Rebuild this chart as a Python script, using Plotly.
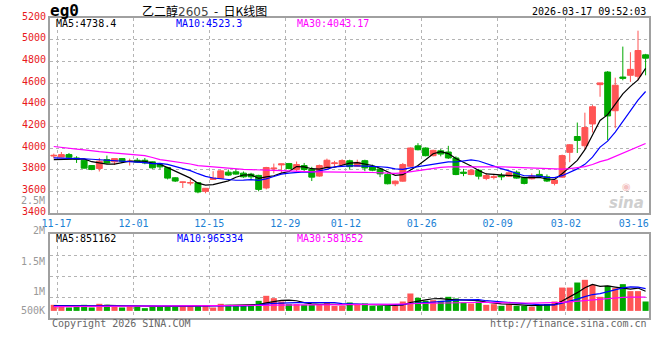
import plotly.graph_objects as go

# ---------------- data ----------------
dates = (["11-17", "11-18", "11-19", "11-20", "11-21", "11-24", "11-25", "11-26", "11-27", "11-28"]
         + ["12-01", "12-02", "12-03", "12-04", "12-05", "12-08", "12-09", "12-10", "12-11", "12-12",
            "12-15", "12-16", "12-17", "12-18", "12-19", "12-22", "12-23", "12-24", "12-25", "12-26",
            "12-29", "12-30", "12-31"]
         + ["01-05", "01-06", "01-07", "01-08", "01-09", "01-12", "01-13", "01-14", "01-15", "01-16",
            "01-19", "01-20", "01-21", "01-22", "01-23", "01-26", "01-27", "01-28", "01-29", "01-30"]
         + ["02-02", "02-03", "02-04", "02-05", "02-06", "02-09", "02-10", "02-11", "02-12", "02-13",
            "02-24", "02-25", "02-26", "02-27"]
         + ["03-02", "03-03", "03-04", "03-05", "03-06", "03-09", "03-10", "03-11", "03-12", "03-13",
            "03-16", "03-17"])

opens = [3926, 3917, 3939, 3908, 3887, 3838, 3811, 3893, 3872, 3902,
         3874, 3887, 3887, 3872, 3847, 3820, 3725, 3683, 3677, 3680,
         3600, 3710, 3719, 3777, 3780, 3768, 3759, 3747, 3631, 3808,
         3844, 3856, 3802, 3838, 3802, 3741, 3817, 3856, 3847, 3882,
         3831, 3883, 3831, 3807, 3755, 3670, 3694, 3831, 4020, 4000,
         3929, 3974, 3963, 3908, 3777, 3755, 3795, 3719, 3728, 3746,
         3740, 3777, 3725, 3716, 3756, 3734, 3673, 3731, 3960, 4106,
         4021, 4222, 4585, 4701, 4344, 4655, 4671, 4662, 4860]
highs = [3948, 3963, 3954, 3924, 3893, 3841, 3908, 3930, 3902, 3908,
         3902, 3908, 3908, 3875, 3850, 3826, 3731, 3689, 3710, 3686,
         3631, 3786, 3795, 3801, 3808, 3783, 3771, 3753, 3826, 3856,
         3856, 3862, 3875, 3862, 3826, 3847, 3902, 3881, 3896, 3892,
         3892, 3892, 3847, 3816, 3770, 3700, 3862, 4005, 4045, 4005,
         3984, 3990, 4020, 3923, 3807, 3807, 3807, 3770, 3761, 3770,
         3786, 3792, 3734, 3765, 3795, 3756, 3710, 3939, 4036, 4235,
         4326, 4396, 4601, 4710, 4649, 4936, 4884, 5083, 4869]
lows = [3905, 3915, 3899, 3862, 3811, 3795, 3783, 3856, 3844, 3862,
        3838, 3862, 3850, 3808, 3802, 3710, 3686, 3631, 3655, 3582,
        3582, 3707, 3716, 3741, 3753, 3725, 3704, 3600, 3618, 3765,
        3771, 3802, 3786, 3786, 3695, 3734, 3811, 3832, 3838, 3800,
        3825, 3786, 3786, 3731, 3664, 3648, 3688, 3825, 3978, 3923,
        3923, 3923, 3899, 3749, 3740, 3749, 3710, 3703, 3710, 3703,
        3734, 3716, 3664, 3710, 3740, 3686, 3655, 3725, 3869, 3954,
        3984, 4143, 4473, 4070, 4183, 4625, 4610, 4625, 4671]
closes = [3932, 3939, 3914, 3899, 3814, 3802, 3878, 3862, 3902, 3878,
          3878, 3869, 3862, 3817, 3826, 3722, 3695, 3686, 3680, 3594,
          3628, 3722, 3789, 3750, 3759, 3734, 3734, 3618, 3820, 3814,
          3853, 3811, 3847, 3802, 3731, 3838, 3887, 3862, 3884, 3828,
          3868, 3816, 3795, 3761, 3670, 3694, 3847, 4000, 3984, 3929,
          3978, 3944, 3908, 3755, 3767, 3795, 3740, 3746, 3734, 3734,
          3771, 3722, 3673, 3740, 3740, 3695, 3704, 3930, 4030, 4070,
          4189, 4381, 4601, 4296, 4579, 4643, 4726, 4900, 4829]
volumes = [259000, 216000, 145000, 216000, 259000, 145000, 302000, 259000, 173000, 145000,
           216000, 216000, 117000, 216000, 173000, 216000, 173000, 216000, 216000, 216000,
           216000, 145000, 302000, 259000, 216000, 216000, 216000, 429000, 643000, 543000,
           401000, 287000, 287000, 259000, 259000, 287000, 358000, 216000, 216000, 358000,
           259000, 316000, 216000, 216000, 216000, 216000, 401000, 742000, 558000, 429000,
           458000, 429000, 600000, 529000, 358000, 316000, 401000, 259000, 287000, 216000,
           287000, 216000, 216000, 173000, 259000, 287000, 401000, 995000, 995000, 1210000,
           1325000, 1112000, 600000, 1069000, 971000, 1140000, 843000, 843000, 401000]

ma5_head = [3893, 3893, 3895, 3897]
ma10_head = [3908, 3907, 3906, 3904, 3900, 3896, 3892, 3889, 3885]
ma30_head = [4014, 4008, 4001, 3990, 3982, 3972, 3966, 3960, 3954, 3948,
             3942, 3936, 3930, 3912, 3892, 3884, 3874, 3866, 3852, 3838,
             3832, 3822, 3817, 3812, 3807, 3803, 3800, 3796, 3793]
vol_ma5_head = [225000, 222000, 220000, 220000]
vol_ma10_head = [215000, 215000, 214000, 214000, 213000, 213000, 212000, 212000, 212000]
vol_ma30_head = [185000, 186000, 188000, 190000, 191000, 193000, 195000, 196000, 198000, 200000,
                 201000, 203000, 204000, 206000, 207000, 209000, 210000, 212000, 213000, 215000,
                 217000, 219000, 221000, 223000, 225000, 227000, 229000, 231000, 234000]

tick_dates = ["11-17", "12-01", "12-15", "12-29", "01-12", "01-26", "02-09", "03-02", "03-16"]
grid_dates = ["11-17", "12-01", "12-15", "12-29", "01-12", "01-26", "02-09", "03-02"]
price_ticks = [3400, 3600, 3800, 4000, 4200, 4400, 4600, 4800, 5000, 5200]
vol_labels = ["2.5M", "2M", "1.5M", "1M", "500K"]

symbol = "eg0"
title_cn = "乙二醇"
contract = "2605"
title_tail = "日K线图"
timestamp = "2026-03-17 09:52:03"
price_ma_texts = ["MA5:4738.4", "MA10:4523.3", "MA30:4043.17"]
vol_ma_texts = ["MA5:851162", "MA10:965334", "MA30:581652"]
copyright_text = "Copyright 2026 SINA.COM"
url_text = "http://finance.sina.com.cn"

# ---------------- styling ----------------
RED = "#ff5555"
GREEN = "#00a800"
MA_COLORS = ["#000000", "#0000ff", "#ff00ff"]
GRID = "#b4b4b4"
BORDER = "#a0a0a0"
MONO = "DejaVu Sans Mono"
W, H = 660, 360
L, R = 50, 11
EDGE_LABEL_NUDGE = {"11-17": -0.15, "03-16": -1.05}   # keep end labels inside the frame


def moving_average(vals, n, head):
    out = list(head)
    for i in range(n - 1, len(vals)):
        out.append(sum(vals[i - n + 1:i + 1]) / n)
    return out


idx = list(range(len(dates)))
ma_price = [moving_average(closes, 5, ma5_head),
            moving_average(closes, 10, ma10_head),
            moving_average(closes, 30, ma30_head)]
ma_vol = [moving_average(volumes, 5, vol_ma5_head),
          moving_average(volumes, 10, vol_ma10_head),
          moving_average(volumes, 30, vol_ma30_head)]
vol_colors = [RED if c >= o else GREEN for o, c in zip(opens, closes)]

fig = go.Figure()
fig.add_trace(go.Candlestick(
    x=idx, open=opens, high=highs, low=lows, close=closes,
    increasing=dict(line=dict(color=RED, width=1), fillcolor=RED),
    decreasing=dict(line=dict(color=GREEN, width=1), fillcolor=GREEN),
    whiskerwidth=0, xaxis="x", yaxis="y", showlegend=False, hoverinfo="skip"))
for ma, col in zip(ma_price, MA_COLORS):
    fig.add_trace(go.Scatter(x=idx, y=ma, mode="lines", line=dict(color=col, width=1.2),
                             xaxis="x", yaxis="y", showlegend=False, hoverinfo="skip"))
fig.add_trace(go.Bar(x=idx, y=volumes, marker=dict(color=vol_colors, line=dict(width=0)),
                     width=0.8, xaxis="x2", yaxis="y2", showlegend=False, hoverinfo="skip"))
for ma, col in zip(ma_vol, MA_COLORS):
    fig.add_trace(go.Scatter(x=idx, y=ma, mode="lines", line=dict(color=col, width=1.2),
                             xaxis="x2", yaxis="y2", showlegend=False, hoverinfo="skip"))


def px_x(px):
    return (px - L) / (W - L - R)


def px_y(py):
    return 1 - py / H


main_top, main_bot = 18, 213
vol_top, vol_bot = 234, 318
label_pos = [dates.index(d) + 0.5 + EDGE_LABEL_NUDGE.get(d, 0) for d in tick_dates]
grid_pos = [dates.index(d) + 0.5 for d in grid_dates]
xr = [-0.5, 78.45]
vol_range = [-303000, 3278000]
vol_grid = [vol_range[0] + (vol_range[1] - vol_range[0]) * f for f in (0.25, 0.5, 0.75)]

frame = dict(zeroline=False, showline=True, mirror=True, linecolor=BORDER, linewidth=2,
             ticks="", automargin=False)
ygrid = dict(showgrid=True, gridcolor=GRID, griddash="dot", gridwidth=1)
xminor = dict(tickmode="array", tickvals=grid_pos, ticks="", showgrid=True,
              gridcolor=GRID, griddash="dot", gridwidth=1)

fig.update_layout(
    width=W, height=H, margin=dict(l=L, r=R, t=0, b=0),
    paper_bgcolor="white", plot_bgcolor="white", showlegend=False,
    boxgap=0.12, boxgroupgap=0.12,
    xaxis=dict(domain=[0, 1], anchor="y", range=xr, tickmode="array", tickvals=label_pos,
               ticktext=tick_dates, tickfont=dict(family=MONO, size=10, color="#1a7fd4"),
               ticklabeloverflow="allow",
               showgrid=False, minor=xminor, rangeslider=dict(visible=False), **frame),
    yaxis=dict(domain=[px_y(main_bot), px_y(main_top)], anchor="x", range=[3400, 5200],
               tickmode="array", tickvals=price_ticks, ticktext=[str(v) for v in price_ticks],
               tickfont=dict(family=MONO, size=10, color="#e8181c"), ticklabelshift=-2,
               ticklabeloverflow="allow", **ygrid, **frame),
    xaxis2=dict(domain=[0, 1], anchor="y2", range=xr, tickmode="array", tickvals=grid_pos,
                showticklabels=False, showgrid=False, minor=xminor, **frame),
    yaxis2=dict(domain=[px_y(vol_bot), px_y(vol_top)], anchor="x2", range=vol_range,
                tickmode="array", tickvals=vol_grid, showticklabels=False, **ygrid, **frame),
    bargap=0.2,
)

ann = []
ann.append(dict(x=px_x(48), y=px_y(10.5), text="<b>" + symbol + "</b>", xanchor="left",
                font=dict(family=MONO, size=16, color="#000")))
ann.append(dict(x=px_x(140), y=px_y(10.5),
                text=title_cn + "<span style='font-family:DejaVu Sans;color:#444;font-size:12px'>" + contract
                     + "</span>  -  " + title_tail,
                xanchor="left", font=dict(family="Noto Sans CJK SC", size=12, color="#000")))
ann.append(dict(x=px_x(648), y=px_y(11), text=timestamp, xanchor="right",
                font=dict(family=MONO, size=10, color="#000")))
for txt, col, left in zip(price_ma_texts, MA_COLORS, (54, 174, 295)):
    ann.append(dict(x=px_x(left), y=px_y(24), text=txt, xanchor="left",
                    font=dict(family=MONO, size=10, color=col)))
for txt, col, left in zip(vol_ma_texts, MA_COLORS, (54, 175, 295)):
    ann.append(dict(x=px_x(left), y=px_y(238.5), text=txt, xanchor="left",
                    font=dict(family=MONO, size=10, color=col)))
for txt, py in zip(vol_labels, (200, 230.5, 261, 291, 310)):
    ann.append(dict(x=px_x(47), y=px_y(py), text=txt, xanchor="right",
                    font=dict(family=MONO, size=10, color="#999")))
ann.append(dict(x=px_x(50), y=px_y(323), text=copyright_text, xanchor="left",
                font=dict(family=MONO, size=10, color="#666")))
ann.append(dict(x=px_x(649), y=px_y(323), text=url_text, xanchor="right",
                font=dict(family=MONO, size=10, color="#666")))
ann.append(dict(x=px_x(646), y=px_y(203), text="<b><i>sina</i></b>", xanchor="right",
                font=dict(family="DejaVu Sans", size=15, color="#cfcfcf")))
ann.append(dict(x=px_x(626), y=px_y(186), text="◉", xanchor="center",
                font=dict(family="DejaVu Sans", size=10, color="#f3c2c2")))
for a in ann:
    a.update(xref="paper", yref="paper", yanchor="middle", showarrow=False)
fig.update_layout(annotations=ann)

fig.write_html("out.html", config={"displayModeBar": False},
               post_script="document.body.style.margin='0';")
